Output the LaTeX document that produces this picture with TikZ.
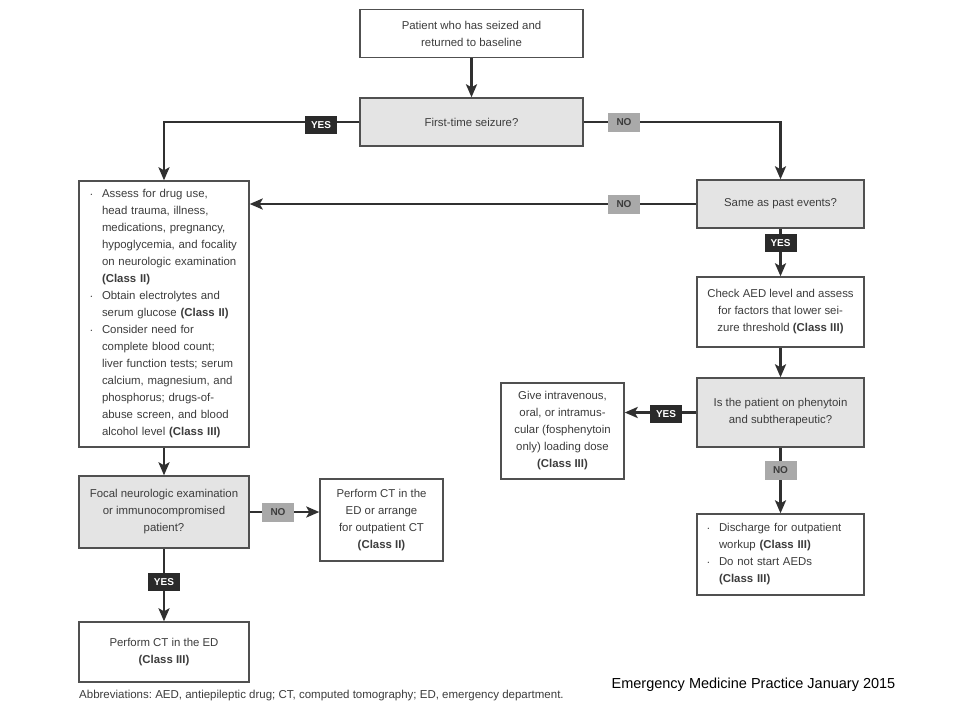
\documentclass[tikz,border=0pt]{standalone}
\usepackage{fontspec}
\setmainfont{Liberation Sans}
\usetikzlibrary{arrows.meta}
\frenchspacing
\definecolor{txt}{HTML}{3C3C3C}
\definecolor{edge}{HTML}{303030}
\definecolor{frame}{HTML}{505050}
\definecolor{qfill}{HTML}{E4E4E4}
\definecolor{yesfill}{HTML}{2A2A2A}
\definecolor{nofill}{HTML}{A9A9A9}
\newcommand{\bl}[1]{\makebox[11.5pt][l]{\raisebox{1pt}{\tiny\textbullet}}#1}
\newcommand{\ind}[1]{\hspace*{11.5pt}#1}
\begin{document}
\begin{tikzpicture}[x=1pt,y=-1pt,
  box/.style={draw=frame,line width=1.4pt,fill=white,text=txt,align=center,
    inner sep=0pt,font=\fontsize{11.4}{17}\selectfont},
  qbox/.style={box,fill=qfill},
  lbox/.style={box,align=left},
  yeslab/.style={fill=yesfill,text=white,font=\fontsize{10}{10}\selectfont\bfseries,
    minimum width=32pt,minimum height=18pt,inner sep=0pt},
  nolab/.style={fill=nofill,text=txt,font=\fontsize{10}{10}\selectfont\bfseries,
    minimum width=32pt,minimum height=19pt,inner sep=0pt},
  conn/.style={draw=edge,line width=2.5pt,-{Stealth[length=13pt,width=11pt,inset=3pt]}},
  line/.style={draw=edge,line width=2.5pt}
]
\useasboundingbox (0,0) rectangle (960,720);
\fill[white] (0,0) rectangle (960,720);

% boxes
\node[box,minimum width=223pt,minimum height=48pt] (start) at (471.5,33.5)
  {Patient who has seized and\\returned to baseline};
\node[qbox,minimum width=223pt,minimum height=48pt] (first) at (471.5,122)
  {First-time seizure?};
\node[qbox,minimum width=167pt,minimum height=48pt] (same) at (780.5,204)
  {Same as past events?};
\node[lbox,minimum width=170pt,minimum height=266pt,text width=147pt,inner xsep=11.5pt] (assess) at (164,314)
  {\bl{Assess for drug use,}\\
   \ind{head trauma, illness,}\\
   \ind{medications, pregnancy,}\\
   \ind{hypoglycemia, and focality}\\
   \ind{on neurologic examination}\\
   \ind{\textbf{(Class II)}}\\
   \bl{Obtain electrolytes and}\\
   \ind{serum glucose \textbf{(Class II)}}\\
   \bl{Consider need for}\\
   \ind{complete blood count;}\\
   \ind{liver function tests; serum}\\
   \ind{calcium, magnesium, and}\\
   \ind{phosphorus; drugs-of-}\\
   \ind{abuse screen, and blood}\\
   \ind{alcohol level \textbf{(Class III)}}};
\node[box,minimum width=167pt,minimum height=70pt] (check) at (780.5,312)
  {Check AED level and assess\\for factors that lower sei-\\zure threshold \textbf{(Class III)}};
\node[qbox,minimum width=167pt,minimum height=69pt] (phen) at (780.5,412.5)
  {Is the patient on phenytoin\\and subtherapeutic?};
\node[box,minimum width=123pt,minimum height=96pt] (give) at (562.5,431)
  {Give intravenous,\\oral, or intramus-\\cular (fosphenytoin\\only) loading dose\\\textbf{(Class III)}};
\node[lbox,minimum width=167pt,minimum height=81pt,text width=146pt,inner xsep=10.5pt] (disch) at (780.5,554.5)
  {\bl{Discharge for outpatient}\\
   \ind{workup \textbf{(Class III)}}\\
   \bl{Do not start AEDs}\\
   \ind{\textbf{(Class III)}}};
\node[qbox,minimum width=170pt,minimum height=72pt] (focal) at (164,512)
  {Focal neurologic examination\\or immunocompromised\\patient?};
\node[box,minimum width=123pt,minimum height=82pt] (ctout) at (381.5,520)
  {Perform CT in the\\ED or arrange\\for outpatient CT\\\textbf{(Class II)}};
\node[box,minimum width=170pt,minimum height=60pt] (ctbot) at (164,652)
  {Perform CT in the ED\\\textbf{(Class III)}};

% connectors
\draw[conn] (start.south) -- (first.north);
\draw[conn] (first.west) -| (assess.north);
\draw[conn] (first.east) -| (same.north);
\draw[conn] (same.west) -- (same.west -| assess.east);
\draw[conn] (same.south) -- (check.north);
\draw[conn] (check.south) -- (phen.north);
\draw[conn] (phen.west) -- (phen.west -| give.east);
\draw[conn] (phen.south) -- (disch.north);
\draw[conn] (assess.south) -- (focal.north);
\draw[conn] (focal.east) -- (focal.east -| ctout.west);
\draw[conn] (focal.south) -- (ctbot.north);

% labels
\node[yeslab] (y1) at (321,125) {YES};
\node[nolab] (n1) at (624,122) {NO};
\node[nolab] (n2) at (624,204) {NO};
\node[yeslab] (y2) at (780.5,243) {YES};
\node[yeslab] (y3) at (666,414) {YES};
\node[nolab] (n3) at (780.5,470) {NO};
\node[nolab] (n4) at (278,512) {NO};
\node[yeslab] (y4) at (164,582) {YES};

% footer texts
\node[anchor=base west,inner sep=0pt,text=txt,font=\fontsize{11.5}{12}\selectfont] (abbr) at (79,698)
  {Abbreviations: AED, antiepileptic drug; CT, computed tomography; ED, emergency department.};
\node[inner sep=0pt,text=black,font=\fontsize{14.5}{16}\selectfont] (src) at (753.5,685)
  {Emergency Medicine Practice January 2015};
\end{tikzpicture}
\end{document}
